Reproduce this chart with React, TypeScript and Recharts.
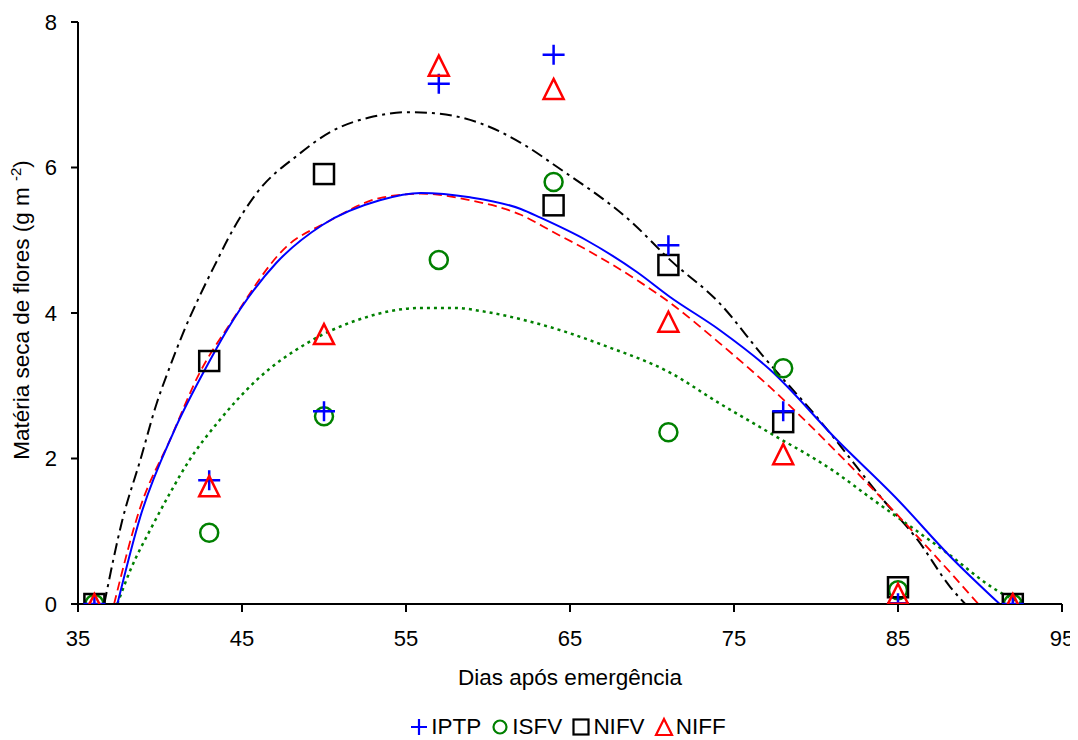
import { ComposedChart, Line, Scatter, XAxis, YAxis } from "recharts"

// observed values
const days = [36, 43, 50, 57, 64, 71, 78, 85, 92]
const iptp = [0, 1.7, 2.65, 7.15, 7.55, 4.93, 2.65, 0.01, 0]
const isfv = [0, 0.98, 2.58, 4.73, 5.8, 2.36, 3.24, 0.19, 0]
const nifv = [0, 3.34, 5.91, null, 5.48, 4.66, 2.5, 0.23, 0]
const niff = [0, 1.62, 3.71, 7.4, 7.08, 3.88, 2.06, 0.14, 0]

// fitted curves
const iptpFitX = [37.4, 38.8, 40.8, 43, 44.1, 47.1, 49.9, 53.4, 55.9, 58.9, 62, 63.2, 66, 69.1, 71.1, 74.1, 77.2, 81.3, 85, 88.2, 91.2]
const iptpFitY = [0, 1.2, 2.35, 3.33, 3.77, 4.69, 5.21, 5.55, 5.65, 5.59, 5.43, 5.31, 5.0, 4.56, 4.22, 3.77, 3.22, 2.25, 1.43, 0.65, 0]
const niffFitX = [37.2, 38.8, 40.6, 42.4, 44.3, 47.7, 50.2, 53.4, 55.9, 58.9, 62, 64, 66, 69.1, 71.1, 74.1, 77.2, 81.3, 84.1, 88.2, 89.9]
const niffFitY = [0, 1.33, 2.25, 3.17, 3.86, 4.91, 5.25, 5.58, 5.64, 5.55, 5.35, 5.11, 4.87, 4.45, 4.14, 3.59, 2.98, 2.08, 1.43, 0.43, 0]
const nifvFitX = [36.6, 37.7, 38.8, 39.8, 40.6, 41.4, 42.6, 43.5, 44.1, 45.9, 48.4, 50.4, 53, 55, 57, 59.5, 62, 64.2, 68.8, 71.1, 74.1, 76.8, 80.2, 84.1, 86.2, 88.2, 89.1]
const nifvFitY = [0, 1.15, 1.98, 2.76, 3.26, 3.72, 4.32, 4.73, 5.0, 5.65, 6.17, 6.49, 6.7, 6.76, 6.74, 6.61, 6.34, 6.01, 5.24, 4.73, 4.14, 3.4, 2.53, 1.43, 0.88, 0.23, 0]
const isfvFitX = [37.4, 38.2, 39.5, 40.6, 41.8, 43.5, 45.9, 49, 52, 55.9, 57.9, 60, 62.6, 64.6, 67, 71.1, 74.1, 77.2, 81, 83.5, 88, 91, 92.6]
const isfvFitY = [0, 0.47, 1.06, 1.52, 1.98, 2.49, 3.08, 3.59, 3.9, 4.07, 4.07, 4.01, 3.88, 3.75, 3.56, 3.18, 2.76, 2.35, 1.84, 1.43, 0.7, 0.19, 0]

const xTicks = [35, 45, 55, 65, 75, 85, 95]
const yTicks = [0, 2, 4, 6, 8]

const toPoints = (xs: number[], ys: (number | null)[]) =>
  xs.map((x, i) => ({ x, y: ys[i] })).filter((p) => p.y !== null)

const FONT = "'Liberation Sans', Arial, sans-serif"

const Plus = ({ cx, cy }: any) => (
  <path d={`M${cx - 11},${cy}H${cx + 11}M${cx},${cy - 10}V${cy + 10}`} stroke="#0000ff" strokeWidth={2.5} fill="none" />
)
const Circle = ({ cx, cy }: any) => (
  <circle cx={cx} cy={cy} r={9} stroke="#008000" strokeWidth={2.5} fill="none" />
)
const Square = ({ cx, cy }: any) => (
  <rect x={cx - 10} y={cy - 10} width={20} height={20} stroke="#000" strokeWidth={2.5} fill="none" />
)
const Triangle = ({ cx, cy }: any) => (
  <path d={`M${cx},${cy - 10}L${cx + 10},${cy + 10}L${cx - 10},${cy + 10}Z`} stroke="#ff0000" strokeWidth={2.5} fill="none" />
)

const YLabel = () => (
  <text
    transform="translate(21,302) rotate(-90)"
    textAnchor="middle"
    fontFamily={FONT}
    fontSize={22.5}
    fill="#000"
  >
    Matéria seca de flores (g m{" "}
    <tspan baselineShift="super" fontSize={15}>-2</tspan>
    <tspan>)</tspan>
  </text>
)

const XLabel = () => (
  <text x={562} y={677} textAnchor="middle" fontFamily={FONT} fontSize={22.5} fill="#000">
    Dias após emergência
  </text>
)

const legendItems = [
  { name: "IPTP", icon: <path d="M1,8H17M9,0V16" stroke="#0000ff" strokeWidth={2.2} fill="none" /> },
  { name: "ISFV", icon: <circle cx={9} cy={8} r={6.5} stroke="#008000" strokeWidth={2.2} fill="none" /> },
  { name: "NIFV", icon: <rect x={1.5} y={0.5} width={15} height={15} stroke="#000" strokeWidth={2.2} fill="none" /> },
  { name: "NIFF", icon: <path d="M9,0L17,16H1Z" stroke="#ff0000" strokeWidth={2.2} fill="none" /> },
]

export default function App() {
  return (
    <div style={{ position: "relative", width: 1070, height: 732 }}>
      <style>{"svg.recharts-surface{overflow:visible}"}</style>
      <ComposedChart
        width={1070}
        height={700}
        margin={{ top: 14, right: 16, bottom: 34, left: 0 }}
        style={{ overflow: "visible" }}
      >
        <XAxis
          type="number"
          dataKey="x"
          domain={[35, 95]}
          ticks={xTicks}
          allowDataOverflow
          stroke="#000"
          strokeWidth={2}
          tickSize={8}
          tickMargin={18}
          tick={{ fill: "#000", fontSize: 22, fontFamily: FONT }}
          height={70}
          label={<XLabel />}
        />
        <YAxis
          type="number"
          dataKey="y"
          domain={[0, 8]}
          ticks={yTicks}
          allowDataOverflow
          stroke="#000"
          strokeWidth={2}
          tickSize={7}
          tickMargin={14}
          tick={{ fill: "#000", fontSize: 22, fontFamily: FONT }}
          width={70}
          label={<YLabel />}
        />
        <Line data={toPoints(nifvFitX, nifvFitY)} dataKey="y" type="monotone" stroke="#000" strokeWidth={2} strokeDasharray="12 5 3 5" dot={false} activeDot={false} isAnimationActive={false} />
        <Line data={toPoints(isfvFitX, isfvFitY)} dataKey="y" type="monotone" stroke="#008000" strokeWidth={2.5} strokeDasharray="3 4" dot={false} activeDot={false} isAnimationActive={false} />
        <Line data={toPoints(niffFitX, niffFitY)} dataKey="y" type="monotone" stroke="#ff0000" strokeWidth={1.8} strokeDasharray="9 5" dot={false} activeDot={false} isAnimationActive={false} />
        <Line data={toPoints(iptpFitX, iptpFitY)} dataKey="y" type="monotone" stroke="#0000ff" strokeWidth={2} dot={false} activeDot={false} isAnimationActive={false} />
        <Scatter data={toPoints(days, isfv)} dataKey="y" shape={<Circle />} isAnimationActive={false} />
        <Scatter data={toPoints(days, nifv)} dataKey="y" shape={<Square />} isAnimationActive={false} />
        <Scatter data={toPoints(days, iptp)} dataKey="y" shape={<Plus />} isAnimationActive={false} />
        <Scatter data={toPoints(days, niff)} dataKey="y" shape={<Triangle />} isAnimationActive={false} />
      </ComposedChart>
      <div
        style={{
          position: "absolute",
          top: 707,
          left: 0,
          width: 1020,
          paddingLeft: 50,
          display: "flex",
          justifyContent: "center",
          fontFamily: FONT,
          fontSize: 22.5,
          lineHeight: "24px",
        }}
      >
        {legendItems.map((item, i) => (
          <span key={item.name} style={{ display: "flex", alignItems: "center", marginRight: i < 3 ? 10 : 0 }}>
            <svg width={18} height={17} style={{ marginRight: 3, overflow: "visible" }}>{item.icon}</svg>
            {item.name}
          </span>
        ))}
      </div>
    </div>
  )
}
